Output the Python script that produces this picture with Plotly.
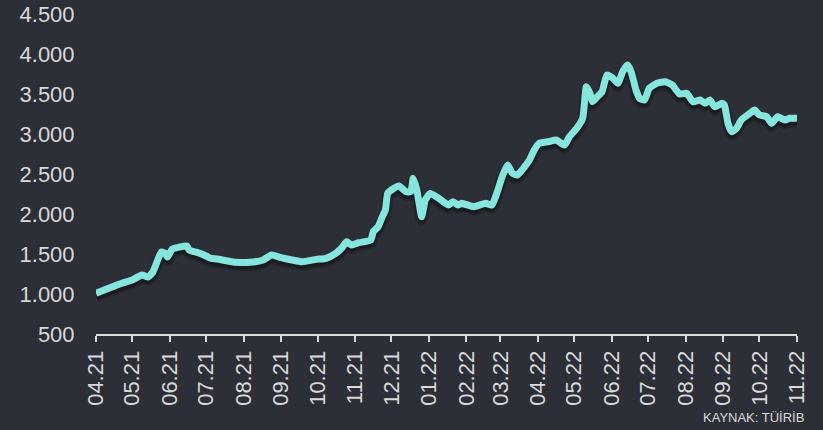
import plotly.graph_objects as go

# Daily price series (TL), sampled at turning points
dates = [
    "2021-04-01", "2021-04-12", "2021-04-23", "2021-05-01", "2021-05-09", "2021-05-14",
    "2021-05-18", "2021-05-21", "2021-05-25", "2021-05-28", "2021-05-30", "2021-06-03",
    "2021-06-09", "2021-06-15", "2021-06-17", "2021-06-25", "2021-07-01", "2021-07-04",
    "2021-07-10", "2021-07-26", "2021-08-06", "2021-08-17", "2021-08-24", "2021-08-31",
    "2021-09-10", "2021-09-18", "2021-09-30", "2021-10-08", "2021-10-16", "2021-10-21",
    "2021-10-25", "2021-10-29", "2021-11-04", "2021-11-14", "2021-11-16", "2021-11-20",
    "2021-11-23", "2021-11-26", "2021-11-28", "2021-12-01", "2021-12-07", "2021-12-13",
    "2021-12-17", "2021-12-19", "2021-12-22", "2021-12-26", "2021-12-29", "2022-01-02",
    "2022-01-09", "2022-01-17", "2022-01-21", "2022-01-25", "2022-01-28", "2022-02-07",
    "2022-02-17", "2022-02-22", "2022-02-26", "2022-03-03", "2022-03-07", "2022-03-11",
    "2022-03-15", "2022-03-21", "2022-03-25", "2022-03-29", "2022-04-02", "2022-04-10",
    "2022-04-16", "2022-04-23", "2022-04-27", "2022-05-03", "2022-05-08", "2022-05-11",
    "2022-05-14", "2022-05-16", "2022-05-20", "2022-05-24", "2022-05-28", "2022-06-02",
    "2022-06-06", "2022-06-10", "2022-06-14", "2022-06-17", "2022-06-21", "2022-06-24",
    "2022-06-28", "2022-07-02", "2022-07-08", "2022-07-15", "2022-07-21", "2022-07-27",
    "2022-08-02", "2022-08-07", "2022-08-13", "2022-08-17", "2022-08-21", "2022-08-25",
    "2022-08-31", "2022-09-02", "2022-09-05", "2022-09-08", "2022-09-12", "2022-09-16",
    "2022-09-23", "2022-09-27", "2022-10-01", "2022-10-07", "2022-10-11", "2022-10-16",
    "2022-10-22", "2022-10-26", "2022-11-01",
]
prices = [
    1010, 1075, 1137, 1175, 1237, 1212,
    1275, 1387, 1525, 1512, 1462, 1562,
    1587, 1600, 1550, 1512, 1475, 1450,
    1437, 1396, 1396, 1425, 1487, 1458,
    1425, 1404, 1433, 1446, 1508, 1575,
    1654, 1612, 1641, 1675, 1779, 1841,
    1950, 2050, 2262, 2300, 2350, 2279,
    2279, 2446, 2300, 1966, 2175, 2258,
    2196, 2112, 2154, 2112, 2133, 2091,
    2133, 2112, 2258, 2487, 2612, 2508,
    2487, 2591, 2675, 2800, 2883, 2904,
    2925, 2862, 2966, 3071, 3196, 3591,
    3508, 3404, 3466, 3529, 3737, 3696,
    3633, 3779, 3862, 3779, 3550, 3446,
    3425, 3571, 3633, 3654, 3612, 3500,
    3508, 3404, 3425, 3383, 3425, 3341,
    3383, 3362, 3133, 3029, 3071, 3175,
    3258, 3300, 3237, 3216, 3133, 3216,
    3175, 3196, 3196,
]

source_note = "KAYNAK: TÜİRİB"

BG = "#2c2f37"
LINE = "#86e6de"
TEXT = "#d9d9d9"
FONT = "Liberation Sans, Arial, sans-serif"
Y_RANGE = [500, 4500]
SHADOW_SHIFT = 37.5  # in price units, about 3px on this scale
LINE_SHAPE = dict(shape="spline", smoothing=0.5)

fig = go.Figure()

# soft drop shadow on the base axis, whose range is nudged so it sits a little lower
fig.add_trace(go.Scatter(x=dates, y=prices, mode="lines", yaxis="y",
                         line=dict(color="rgba(0,0,0,0.18)", width=12, **LINE_SHAPE),
                         hoverinfo="skip", showlegend=False))
fig.add_trace(go.Scatter(x=dates, y=prices, mode="lines", yaxis="y",
                         line=dict(color="rgba(0,0,0,0.25)", width=8, **LINE_SHAPE),
                         hoverinfo="skip", showlegend=False))
# the price line itself, on the overlaid axis that also carries the tick labels
fig.add_trace(go.Scatter(x=dates, y=prices, mode="lines", yaxis="y2",
                         line=dict(color=LINE, width=7, **LINE_SHAPE),
                         showlegend=False))

fig.update_layout(
    width=823, height=430,
    margin=dict(l=96, r=26, t=14, b=96),
    paper_bgcolor=BG, plot_bgcolor=BG,
    separators=",.",
    font=dict(family=FONT, color=TEXT, size=22),
    xaxis=dict(
        type="date", automargin=False,
        range=["2021-04-01", "2022-11-01"],
        tick0="2021-04-01", dtick="M1",
        tickformat="%m.%y", tickangle=-90,
        showgrid=False, zeroline=False,
        showline=True, linecolor=TEXT, linewidth=2,
        ticks="outside", ticklen=6, tickwidth=2, tickcolor=TEXT,
        tickfont=dict(size=22, color=TEXT, family=FONT),
    ),
    yaxis=dict(
        range=[Y_RANGE[0] + SHADOW_SHIFT, Y_RANGE[1] + SHADOW_SHIFT],
        showticklabels=False, showgrid=False, zeroline=False, showline=False,
        ticks="", automargin=False,
    ),
    yaxis2=dict(
        overlaying="y", side="left",
        range=Y_RANGE, dtick=500, tick0=500, automargin=False,
        tickformat=",d",
        showgrid=False, zeroline=False, showline=False,
        ticks="outside", ticklen=16, tickcolor="rgba(0,0,0,0)",
        tickfont=dict(size=22, color=TEXT, family=FONT),
    ),
    annotations=[dict(
        text=source_note, xref="paper", yref="paper",
        x=1.0, y=0, xanchor="right", yanchor="middle",
        xshift=9, yshift=-83, showarrow=False,
        font=dict(size=13, color=TEXT, family=FONT),
    )],
)

fig.write_html("out.html")
